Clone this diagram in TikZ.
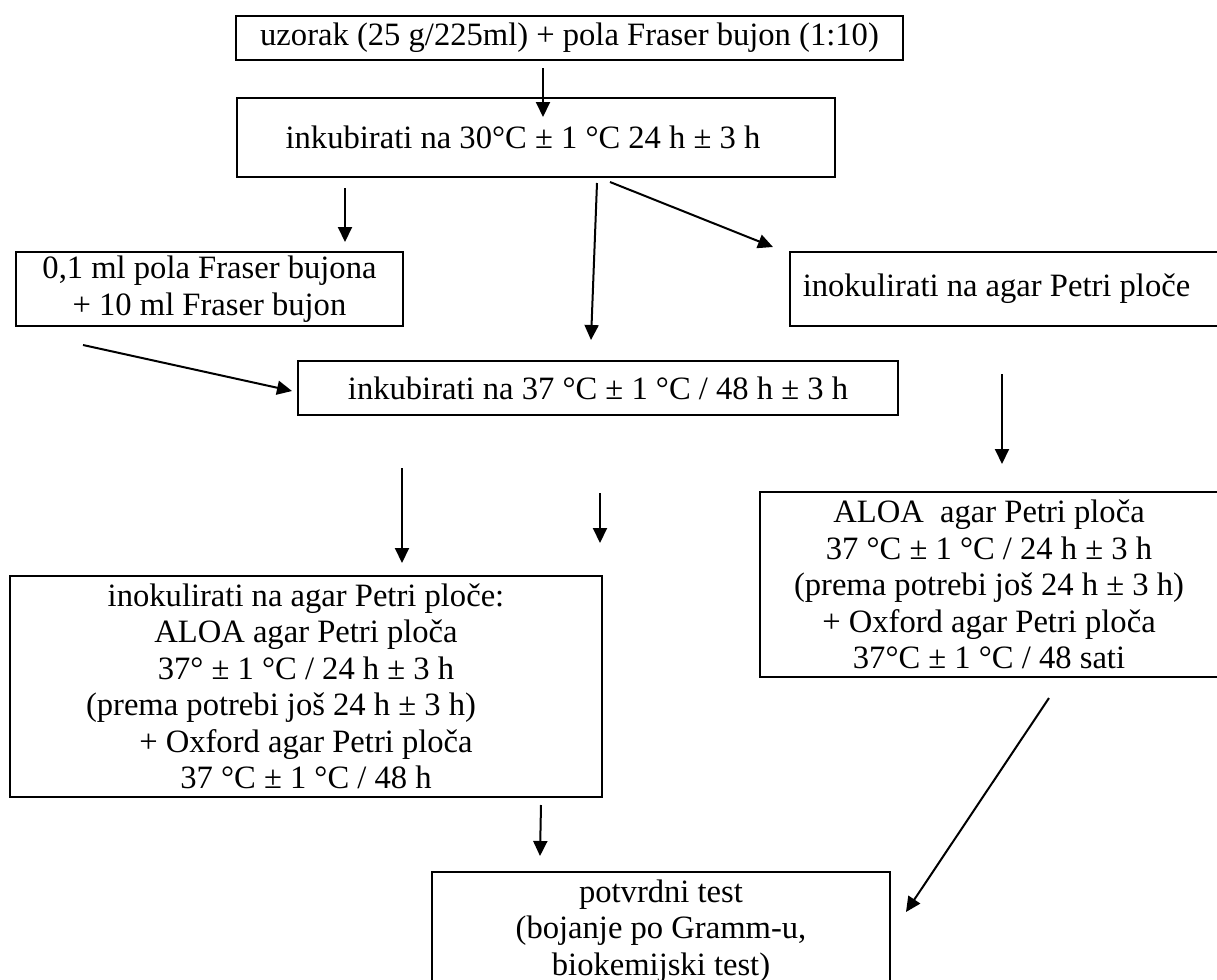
\documentclass[tikz,border=0pt]{standalone}
\usepackage{fontspec}
\setmainfont{Liberation Serif}
\usetikzlibrary{arrows.meta}
\begin{document}
\begin{tikzpicture}[x=0.5pt,y=-0.5pt,
  box/.style={draw,line width=1.4pt,inner sep=0pt,align=center,
    font=\fontsize{16.3}{18.25}\selectfont},
  arr/.style={line width=1pt,-{Triangle[width=7pt,length=7.5pt]}}]
\useasboundingbox (0,0) rectangle (1217,980);
\clip (0,0) rectangle (1217,980);
% boxes
\node[box,minimum width=333.5pt,minimum height=22pt] (b1) at (569.5,38)
  {uzorak (25 g/225ml) + pola Fraser bujon (1:10)};
\node[box,minimum width=299pt,minimum height=39.5pt] (b2) at (536,137.5)
  {inkubirati na 30°C ± 1 °C 24 h ± 3 h\rule{13pt}{0pt}};
\node[box,minimum width=193.5pt,minimum height=37pt] (b3) at (209.5,289)
  {0,1 ml pola Fraser bujona\\+ 10 ml Fraser bujon};
\node[box,minimum width=214.5pt,minimum height=37pt] (b4) at (1004.5,289)
  {inokulirati na agar Petri ploče\rule{8pt}{0pt}};
\node[box,minimum width=300pt,minimum height=27pt] (b5) at (598,388)
  {inkubirati na 37 °C ± 1 °C / 48 h ± 3 h};
\node[box,minimum width=229pt,minimum height=92.5pt] (b6) at (989,584.5)
  {ALOA\ \ agar Petri ploča\\37 °C ± 1 °C / 24 h ± 3 h\\(prema potrebi još 24 h ± 3 h)\\+ Oxford agar Petri ploča\\37°C ± 1 °C / 48 sati};
\node[box,minimum width=296pt,minimum height=110.5pt] (b7) at (306,686.5)
  {inokulirati na agar Petri ploče:\\ALOA agar Petri ploča\\37° ± 1 °C / 24 h ± 3 h\\(prema potrebi još 24 h ± 3 h)\rule{25pt}{0pt}\\+ Oxford agar Petri ploča\\37 °C ± 1 °C / 48 h};
\node[box,minimum width=229pt,minimum height=59pt] (b8) at (661,931)
  {potvrdni test\\(bojanje po Gramm-u,\\biokemijski test)};
% arrow end points
\coordinate (a1s) at (543,68);   \coordinate (a1e) at (543,117);
\coordinate (a2s) at (345,188);  \coordinate (a2e) at (345,242);
\coordinate (a3s) at (597,183);  \coordinate (a3e) at (591,340);
\coordinate (a4s) at (610,182);  \coordinate (a4e) at (773,247);
\coordinate (a5s) at (83,345);   \coordinate (a5e) at (292,391);
\coordinate (a6s) at (1002,374); \coordinate (a6e) at (1002,464);
\coordinate (a7s) at (402,468);  \coordinate (a7e) at (402,563);
\coordinate (a8s) at (600,493);  \coordinate (a8e) at (600,543);
\coordinate (a9s) at (541,805);  \coordinate (a9e) at (540,856);
\coordinate (a10s) at (1049,698); \coordinate (a10e) at (906,912);
\foreach \i in {1,...,10} \draw[arr] (a\i s) -- (a\i e);
\end{tikzpicture}
\end{document}
